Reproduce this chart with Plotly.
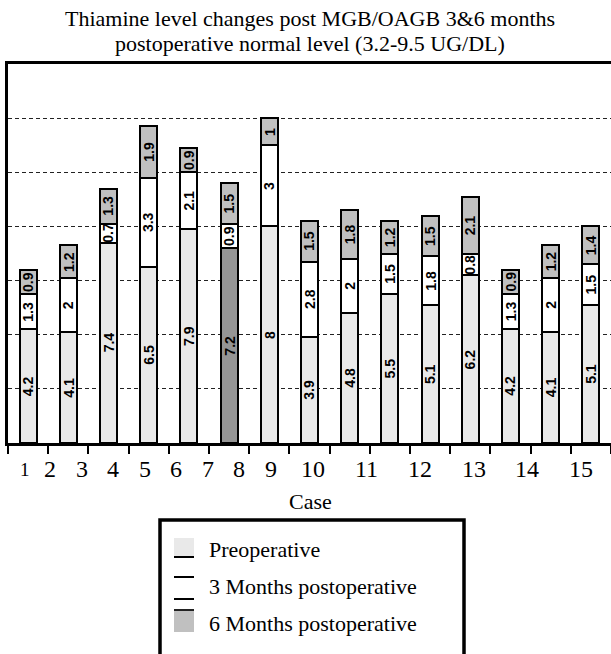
import plotly.graph_objects as go

# ---- data -------------------------------------------------------------
cases = [str(i) for i in range(1, 16)]
preoperative = [4.2, 4.1, 7.4, 6.5, 7.9, 7.2, 8, 3.9, 4.8, 5.5, 5.1, 6.2, 4.2, 4.1, 5.1]
months_3 = [1.3, 2, 0.7, 3.3, 2.1, 0.9, 3, 2.8, 2, 1.5, 1.8, 0.8, 1.3, 2, 1.5]
months_6 = [0.9, 1.2, 1.3, 1.9, 0.9, 1.5, 1, 1.5, 1.8, 1.2, 1.5, 2.1, 0.9, 1.2, 1.4]
series_names = ["Preoperative", "3 Months postoperative", "6 Months postoperative"]

# ---- layout constants ---------------------------------------------------
W, H = 611, 654
L, R, T, B = 8, 0, 64, 211
PW, PH = W - L - R, H - T - B

SERIF = "Liberation Serif, Times New Roman, serif"
SANS = "Liberation Sans, Arial, sans-serif"

PRE_COLOR = "#e9e9e9"
PRE_HIGHLIGHT = "#959595"
M3_COLOR = "#ffffff"
M6_COLOR = "#c0c0c0"

pre_colors = [PRE_HIGHLIGHT if c == "6" else PRE_COLOR for c in cases]


def px(x):
    """pixel column -> paper x"""
    return (x - L) / PW


def py(y):
    """pixel row -> paper y"""
    return (H - B - y) / PH


fig = go.Figure()
bar_line = dict(color="black", width=2)
bar_width = 0.42

for name, vals, col in [
    (series_names[0], preoperative, pre_colors),
    (series_names[1], months_3, M3_COLOR),
    (series_names[2], months_6, M6_COLOR),
]:
    fig.add_trace(go.Bar(
        x=cases, y=vals, name=name, width=bar_width,
        marker=dict(color=col, line=bar_line),
        showlegend=False, hoverinfo="x+y+name",
    ))

annotations = []

# value labels, rotated, centred on every stacked segment
base = [0.0] * len(cases)
for vals in (preoperative, months_3, months_6):
    for i, v in enumerate(vals):
        annotations.append(dict(
            x=i, y=base[i] + v / 2, xref="x", yref="y",
            text=f"{v:g}", textangle=-90, showarrow=False,
            font=dict(family=SANS, size=14, color="black", weight="bold"),
        ))
        base[i] += v

# title, two lines
for text, yc in (("Thiamine level changes post MGB/OAGB 3&6 months", 18),
                 ("postoperative normal level (3.2-9.5 UG/DL)", 44)):
    annotations.append(dict(x=0.5, y=py(yc), xref="paper", yref="paper",
                            text=text, showarrow=False, xanchor="center",
                            yanchor="middle", borderpad=0,
                            font=dict(family=SERIF, size=22, color="black")))

# category labels along the bottom axis
char_w, gap = 22, 9.5
x_cursor = 25
for i, c in enumerate(cases):
    if i > 0:
        x_cursor += (len(cases[i - 1]) * char_w) / 2 + gap + (len(c) * char_w) / 2
    if i == 1:
        x_cursor = 50
    annotations.append(dict(
        x=px(x_cursor), y=py(469), xref="paper", yref="paper", text=c,
        showarrow=False, xanchor="center", yanchor="middle",
        font=dict(family=SERIF, size=19 if i == 0 else 24, color="black"),
    ))

# axis title
annotations.append(dict(x=px(310), y=py(501), xref="paper", yref="paper",
                        text="Case", showarrow=False, xanchor="center",
                        yanchor="middle",
                        font=dict(family=SERIF, size=22, color="black")))

# legend (drawn by hand)
shapes = []
shapes.append(dict(type="rect", xref="paper", yref="paper",
                   x0=px(160), x1=px(464), y0=py(520), y1=py(662),
                   line=dict(color="black", width=3.5), fillcolor="white",
                   layer="above"))
# preoperative swatch
shapes.append(dict(type="rect", xref="paper", yref="paper",
                   x0=px(174), x1=px(194), y0=py(538), y1=py(556),
                   line=dict(width=0), fillcolor=PRE_COLOR, layer="above"))
shapes.append(dict(type="line", xref="paper", yref="paper",
                   x0=px(174), x1=px(194), y0=py(557), y1=py(557),
                   line=dict(color="black", width=2), layer="above"))
# 3 months swatch
for yy in (577, 599):
    shapes.append(dict(type="line", xref="paper", yref="paper",
                       x0=px(174), x1=px(194), y0=py(yy), y1=py(yy),
                       line=dict(color="black", width=2), layer="above"))
# 6 months swatch
shapes.append(dict(type="rect", xref="paper", yref="paper",
                   x0=px(174), x1=px(194), y0=py(611), y1=py(632),
                   line=dict(width=0), fillcolor=M6_COLOR, layer="above"))
shapes.append(dict(type="line", xref="paper", yref="paper",
                   x0=px(174), x1=px(194), y0=py(610), y1=py(610),
                   line=dict(color="#222222", width=2), layer="above"))

for name, yc in zip(series_names, (549, 586, 623)):
    annotations.append(dict(x=px(207), y=py(yc), xref="paper", yref="paper",
                            text=name, showarrow=False, xanchor="left",
                            yanchor="middle",
                            font=dict(family=SERIF, size=22, color="black")))

fig.update_layout(
    width=W, height=H,
    margin=dict(l=L, r=R, t=T, b=B, pad=0),
    barmode="stack",
    plot_bgcolor="white", paper_bgcolor="white",
    annotations=annotations, shapes=shapes,
    xaxis=dict(
        type="category", range=[-0.5, 14.5],
        showline=True, linecolor="black", linewidth=3, mirror=True,
        ticks="outside", tickson="boundaries", ticklen=8, tickwidth=2,
        tickcolor="black", showticklabels=False, showgrid=False,
        zeroline=False, fixedrange=True,
    ),
    yaxis=dict(
        range=[0, 14], dtick=2, showticklabels=False,
        showline=True, linecolor="black", linewidth=3, mirror=False,
        showgrid=True, gridcolor="#222222", gridwidth=1, griddash="4px,3px",
        zeroline=False, ticks="", fixedrange=True,
    ),
)

fig.write_html("out.html")
